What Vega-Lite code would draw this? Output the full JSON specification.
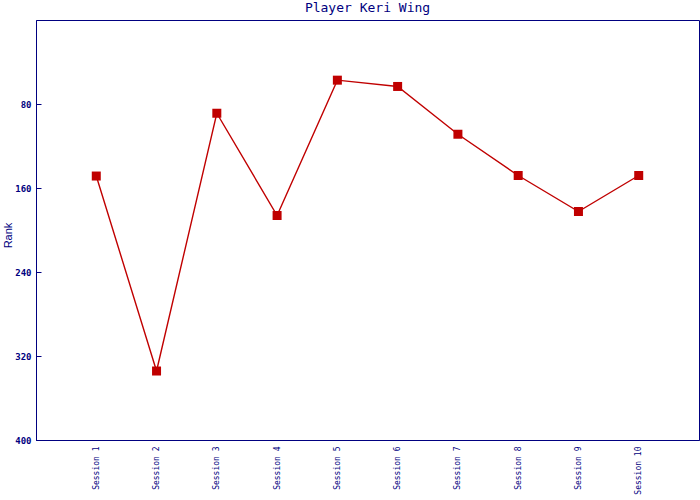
{
  "$schema": "https://vega.github.io/schema/vega-lite/v6.json",
  "width": 663,
  "height": 420,
  "autosize": {"type": "none"},
  "padding": {"left": 36, "top": 20, "right": 1, "bottom": 60},
  "background": "white",
  "title": {
    "text": "Player Keri Wing",
    "font": "DejaVu Sans Mono",
    "fontSize": 13,
    "fontWeight": "normal",
    "color": "#000080",
    "offset": 5
  },
  "config": {
    "view": {"stroke": "#000080", "strokeWidth": 1},
    "axis": {"grid": false, "domainColor": "#000080", "tickColor": "#000080", "labelColor": "#000080", "titleColor": "#000080"}
  },
  "data": {
    "values": [
      {"session": "Session 1", "rank": 148.6},
      {"session": "Session 2", "rank": 334.3},
      {"session": "Session 3", "rank": 88.8},
      {"session": "Session 4", "rank": 186.2},
      {"session": "Session 5", "rank": 57.3},
      {"session": "Session 6", "rank": 63.3},
      {"session": "Session 7", "rank": 108.8},
      {"session": "Session 8", "rank": 148.1},
      {"session": "Session 9", "rank": 182.4},
      {"session": "Session 10", "rank": 148.1}
    ]
  },
  "encoding": {
    "x": {
      "field": "session",
      "type": "ordinal",
      "sort": null,
      "scale": {"type": "point", "padding": 1},
      "axis": {
        "title": null,
        "ticks": false,
        "labelAngle": -90,
        "labelAlign": "right",
        "labelBaseline": "middle",
        "labelFont": "DejaVu Sans Mono",
        "labelFontSize": 8,
        "labelPadding": 6,
        "domainWidth": 1
      }
    },
    "y": {
      "field": "rank",
      "type": "quantitative",
      "scale": {"domain": [0, 400], "reverse": true, "nice": false},
      "axis": {
        "title": "Rank",
        "titleFont": "Liberation Sans",
        "titleFontSize": 11,
        "titleFontWeight": "normal",
        "titleAngle": -90,
        "titleAlign": "center",
        "titleBaseline": "middle",
        "titleX": -28,
        "titleY": 215,
        "values": [80, 160, 240, 320, 400],
        "tickSize": -5,
        "labelPadding": 10,
        "labelFont": "DejaVu Sans Mono",
        "labelFontSize": 9,
        "labelFontWeight": "bold",
        "domainWidth": 1
      }
    }
  },
  "layer": [
    {"mark": {"type": "line", "color": "#c00000", "strokeWidth": 1.4}},
    {"mark": {"type": "square", "color": "#c00000", "size": 81, "opacity": 1, "filled": true}}
  ]
}
